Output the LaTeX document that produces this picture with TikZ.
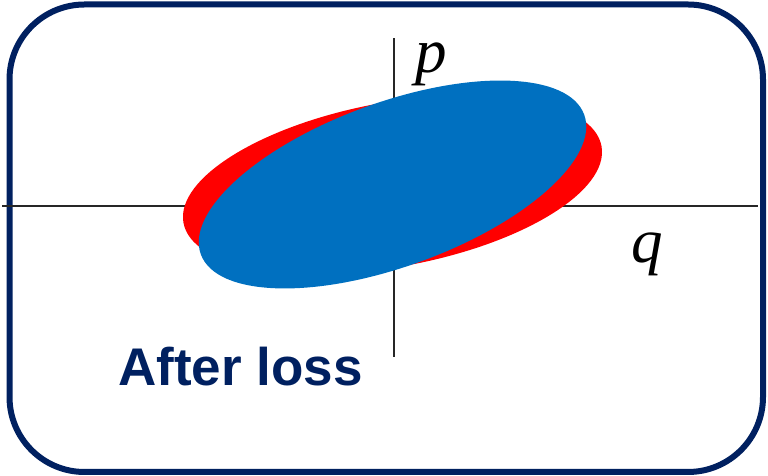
\documentclass[tikz,border=0pt]{standalone}
\usepackage{fontspec}
\setmainfont{Liberation Sans}
\newfontfamily\serifit{Liberation Serif}
\usepackage{xcolor}
\usetikzlibrary{positioning,calc}

\definecolor{navy}{HTML}{002060}
\definecolor{ppblue}{HTML}{0070C0}

\begin{document}
\begin{tikzpicture}[
  x=1pt, y=1pt,
  frame/.style={draw=navy, line width=6pt, rounded corners=75pt},
  axis/.style={draw=black!85, line width=1.2pt},
  varlabel/.style={font=\fontsize{63}{63}\selectfont\serifit\itshape, inner sep=0pt, anchor=base},
  title/.style={font=\fontsize{53}{60}\selectfont\bfseries, text=navy, inner sep=0pt, anchor=base west}
]
\useasboundingbox (0,0) rectangle (768,476);
\draw[frame] (9.5,471.5) rectangle (763,4);

% axes
\coordinate (qleft)  at (2,270);
\coordinate (qright) at (758,270);
\coordinate (pbot)   at (394,119);
\coordinate (ptop)   at (394,438);
\draw[axis] (qleft) -- (qright);
\draw[axis] (pbot) -- (ptop);

% states before and after the loss
\coordinate (ctr) at (392.5,291.5);
\fill[red, rotate around={10.4:(ctr)}] (ctr) ellipse [x radius=212.5, y radius=82.2];
\fill[ppblue, rotate around={20:(ctr)}] (ctr) ellipse [x radius=204, y radius=82];

\node[varlabel] (plab) at (431,403) {p};
\node[varlabel] (qlab) at (647,213) {q};
\node[title] (after) at (118,90) {After loss};
\end{tikzpicture}
\end{document}
